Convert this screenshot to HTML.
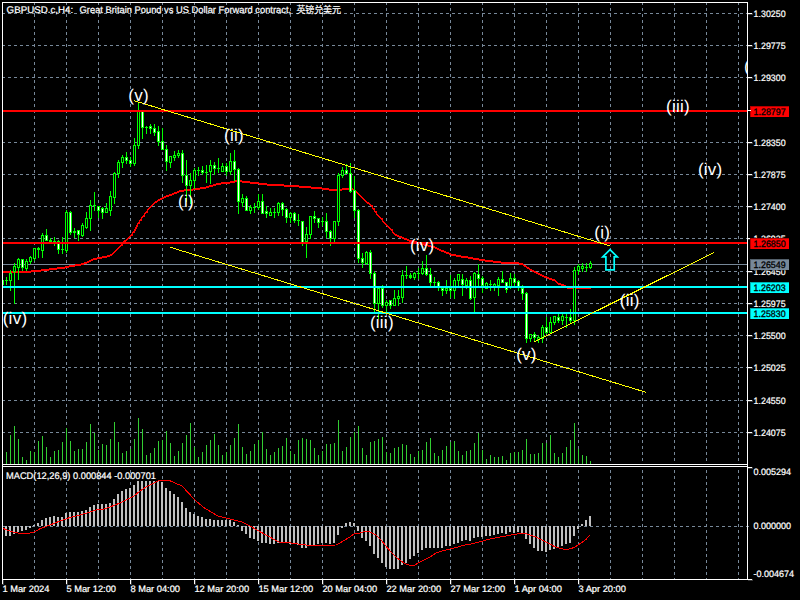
<!DOCTYPE html>
<html lang="en"><head><meta charset="utf-8"><title>GBPUSD.c H4</title>
<style>html,body{margin:0;padding:0;background:#000;overflow:hidden}svg{display:block}</style>
</head><body>
<svg width="800" height="600" viewBox="0 0 800 600" shape-rendering="crispEdges">
<rect x="0" y="0" width="800" height="600" fill="#000"/>
<g stroke="#778899" stroke-width="1" stroke-dasharray="3 3" fill="none">
<line x1="2" y1="13.5" x2="747" y2="13.5"/>
<line x1="2" y1="45.5" x2="747" y2="45.5"/>
<line x1="2" y1="77.5" x2="747" y2="77.5"/>
<line x1="2" y1="110.5" x2="747" y2="110.5"/>
<line x1="2" y1="142.5" x2="747" y2="142.5"/>
<line x1="2" y1="174.5" x2="747" y2="174.5"/>
<line x1="2" y1="206.5" x2="747" y2="206.5"/>
<line x1="2" y1="238.5" x2="747" y2="238.5"/>
<line x1="2" y1="271.5" x2="747" y2="271.5"/>
<line x1="2" y1="303.5" x2="747" y2="303.5"/>
<line x1="2" y1="335.5" x2="747" y2="335.5"/>
<line x1="2" y1="367.5" x2="747" y2="367.5"/>
<line x1="2" y1="400.5" x2="747" y2="400.5"/>
<line x1="2" y1="432.5" x2="747" y2="432.5"/>
<line x1="2" y1="526.5" x2="751" y2="526.5"/>
<line x1="34.5" y1="2" x2="34.5" y2="464"/>
<line x1="34.5" y1="470" x2="34.5" y2="579"/>
<line x1="66.5" y1="2" x2="66.5" y2="464"/>
<line x1="66.5" y1="470" x2="66.5" y2="579"/>
<line x1="98.5" y1="2" x2="98.5" y2="464"/>
<line x1="98.5" y1="470" x2="98.5" y2="579"/>
<line x1="130.5" y1="2" x2="130.5" y2="464"/>
<line x1="130.5" y1="470" x2="130.5" y2="579"/>
<line x1="162.5" y1="2" x2="162.5" y2="464"/>
<line x1="162.5" y1="470" x2="162.5" y2="579"/>
<line x1="194.5" y1="2" x2="194.5" y2="464"/>
<line x1="194.5" y1="470" x2="194.5" y2="579"/>
<line x1="226.5" y1="2" x2="226.5" y2="464"/>
<line x1="226.5" y1="470" x2="226.5" y2="579"/>
<line x1="258.5" y1="2" x2="258.5" y2="464"/>
<line x1="258.5" y1="470" x2="258.5" y2="579"/>
<line x1="290.5" y1="2" x2="290.5" y2="464"/>
<line x1="290.5" y1="470" x2="290.5" y2="579"/>
<line x1="322.5" y1="2" x2="322.5" y2="464"/>
<line x1="322.5" y1="470" x2="322.5" y2="579"/>
<line x1="354.5" y1="2" x2="354.5" y2="464"/>
<line x1="354.5" y1="470" x2="354.5" y2="579"/>
<line x1="386.5" y1="2" x2="386.5" y2="464"/>
<line x1="386.5" y1="470" x2="386.5" y2="579"/>
<line x1="418.5" y1="2" x2="418.5" y2="464"/>
<line x1="418.5" y1="470" x2="418.5" y2="579"/>
<line x1="450.5" y1="2" x2="450.5" y2="464"/>
<line x1="450.5" y1="470" x2="450.5" y2="579"/>
<line x1="482.5" y1="2" x2="482.5" y2="464"/>
<line x1="482.5" y1="470" x2="482.5" y2="579"/>
<line x1="514.5" y1="2" x2="514.5" y2="464"/>
<line x1="514.5" y1="470" x2="514.5" y2="579"/>
<line x1="546.5" y1="2" x2="546.5" y2="464"/>
<line x1="546.5" y1="470" x2="546.5" y2="579"/>
<line x1="578.5" y1="2" x2="578.5" y2="464"/>
<line x1="578.5" y1="470" x2="578.5" y2="579"/>
<line x1="610.5" y1="2" x2="610.5" y2="464"/>
<line x1="610.5" y1="470" x2="610.5" y2="579"/>
<line x1="642.5" y1="2" x2="642.5" y2="464"/>
<line x1="642.5" y1="470" x2="642.5" y2="579"/>
<line x1="674.5" y1="2" x2="674.5" y2="464"/>
<line x1="674.5" y1="470" x2="674.5" y2="579"/>
<line x1="706.5" y1="2" x2="706.5" y2="464"/>
<line x1="706.5" y1="470" x2="706.5" y2="579"/>
<line x1="738.5" y1="2" x2="738.5" y2="464"/>
<line x1="738.5" y1="470" x2="738.5" y2="579"/>
</g>
<g fill="#32cd32">
<rect x="6" y="452" width="1" height="12"/>
<rect x="10" y="435" width="1" height="29"/>
<rect x="14" y="426" width="1" height="38"/>
<rect x="18" y="439" width="1" height="25"/>
<rect x="22" y="457" width="1" height="7"/>
<rect x="26" y="460" width="1" height="4"/>
<rect x="30" y="451" width="1" height="13"/>
<rect x="34" y="452" width="1" height="12"/>
<rect x="38" y="441" width="1" height="23"/>
<rect x="42" y="436" width="1" height="28"/>
<rect x="46" y="447" width="1" height="17"/>
<rect x="50" y="457" width="1" height="7"/>
<rect x="54" y="451" width="1" height="13"/>
<rect x="58" y="450" width="1" height="14"/>
<rect x="62" y="442" width="1" height="22"/>
<rect x="66" y="428" width="1" height="36"/>
<rect x="70" y="441" width="1" height="23"/>
<rect x="74" y="451" width="1" height="13"/>
<rect x="78" y="449" width="1" height="15"/>
<rect x="82" y="449" width="1" height="15"/>
<rect x="86" y="442" width="1" height="22"/>
<rect x="90" y="424" width="1" height="40"/>
<rect x="94" y="433" width="1" height="31"/>
<rect x="98" y="450" width="1" height="14"/>
<rect x="102" y="444" width="1" height="20"/>
<rect x="106" y="445" width="1" height="19"/>
<rect x="110" y="439" width="1" height="25"/>
<rect x="114" y="422" width="1" height="42"/>
<rect x="118" y="442" width="1" height="22"/>
<rect x="122" y="453" width="1" height="11"/>
<rect x="126" y="451" width="1" height="13"/>
<rect x="130" y="449" width="1" height="15"/>
<rect x="134" y="439" width="1" height="25"/>
<rect x="138" y="418" width="1" height="46"/>
<rect x="142" y="429" width="1" height="35"/>
<rect x="146" y="455" width="1" height="9"/>
<rect x="150" y="453" width="1" height="11"/>
<rect x="154" y="448" width="1" height="16"/>
<rect x="158" y="441" width="1" height="23"/>
<rect x="162" y="440" width="1" height="24"/>
<rect x="166" y="431" width="1" height="33"/>
<rect x="170" y="443" width="1" height="21"/>
<rect x="174" y="456" width="1" height="8"/>
<rect x="178" y="451" width="1" height="13"/>
<rect x="182" y="443" width="1" height="21"/>
<rect x="186" y="435" width="1" height="29"/>
<rect x="190" y="423" width="1" height="41"/>
<rect x="194" y="447" width="1" height="17"/>
<rect x="198" y="457" width="1" height="7"/>
<rect x="202" y="452" width="1" height="12"/>
<rect x="206" y="445" width="1" height="19"/>
<rect x="210" y="440" width="1" height="24"/>
<rect x="214" y="434" width="1" height="30"/>
<rect x="218" y="445" width="1" height="19"/>
<rect x="222" y="455" width="1" height="9"/>
<rect x="226" y="452" width="1" height="12"/>
<rect x="230" y="445" width="1" height="19"/>
<rect x="234" y="438" width="1" height="26"/>
<rect x="238" y="424" width="1" height="40"/>
<rect x="242" y="447" width="1" height="17"/>
<rect x="246" y="454" width="1" height="10"/>
<rect x="250" y="451" width="1" height="13"/>
<rect x="254" y="444" width="1" height="20"/>
<rect x="258" y="440" width="1" height="24"/>
<rect x="262" y="432" width="1" height="32"/>
<rect x="266" y="449" width="1" height="15"/>
<rect x="270" y="455" width="1" height="9"/>
<rect x="274" y="452" width="1" height="12"/>
<rect x="278" y="448" width="1" height="16"/>
<rect x="282" y="446" width="1" height="18"/>
<rect x="286" y="438" width="1" height="26"/>
<rect x="290" y="451" width="1" height="13"/>
<rect x="294" y="454" width="1" height="10"/>
<rect x="298" y="440" width="1" height="24"/>
<rect x="302" y="438" width="1" height="26"/>
<rect x="306" y="439" width="1" height="25"/>
<rect x="310" y="440" width="1" height="24"/>
<rect x="314" y="448" width="1" height="16"/>
<rect x="318" y="455" width="1" height="9"/>
<rect x="322" y="451" width="1" height="13"/>
<rect x="326" y="444" width="1" height="20"/>
<rect x="330" y="444" width="1" height="20"/>
<rect x="334" y="443" width="1" height="21"/>
<rect x="338" y="420" width="1" height="44"/>
<rect x="342" y="451" width="1" height="13"/>
<rect x="346" y="447" width="1" height="17"/>
<rect x="350" y="437" width="1" height="27"/>
<rect x="354" y="432" width="1" height="32"/>
<rect x="358" y="426" width="1" height="38"/>
<rect x="362" y="448" width="1" height="16"/>
<rect x="366" y="455" width="1" height="9"/>
<rect x="370" y="442" width="1" height="22"/>
<rect x="374" y="441" width="1" height="23"/>
<rect x="378" y="439" width="1" height="25"/>
<rect x="382" y="437" width="1" height="27"/>
<rect x="386" y="452" width="1" height="12"/>
<rect x="390" y="453" width="1" height="11"/>
<rect x="394" y="448" width="1" height="16"/>
<rect x="398" y="447" width="1" height="17"/>
<rect x="402" y="444" width="1" height="20"/>
<rect x="406" y="445" width="1" height="19"/>
<rect x="410" y="454" width="1" height="10"/>
<rect x="414" y="457" width="1" height="7"/>
<rect x="418" y="451" width="1" height="13"/>
<rect x="422" y="450" width="1" height="14"/>
<rect x="426" y="442" width="1" height="22"/>
<rect x="430" y="438" width="1" height="26"/>
<rect x="434" y="453" width="1" height="11"/>
<rect x="438" y="456" width="1" height="8"/>
<rect x="442" y="450" width="1" height="14"/>
<rect x="446" y="446" width="1" height="18"/>
<rect x="450" y="442" width="1" height="22"/>
<rect x="454" y="441" width="1" height="23"/>
<rect x="458" y="451" width="1" height="13"/>
<rect x="462" y="455" width="1" height="9"/>
<rect x="466" y="451" width="1" height="13"/>
<rect x="470" y="450" width="1" height="14"/>
<rect x="474" y="443" width="1" height="21"/>
<rect x="478" y="433" width="1" height="31"/>
<rect x="482" y="450" width="1" height="14"/>
<rect x="486" y="459" width="1" height="5"/>
<rect x="490" y="455" width="1" height="9"/>
<rect x="494" y="457" width="1" height="7"/>
<rect x="498" y="457" width="1" height="7"/>
<rect x="502" y="456" width="1" height="8"/>
<rect x="506" y="460" width="1" height="4"/>
<rect x="510" y="453" width="1" height="11"/>
<rect x="514" y="452" width="1" height="12"/>
<rect x="518" y="452" width="1" height="12"/>
<rect x="522" y="450" width="1" height="14"/>
<rect x="526" y="439" width="1" height="25"/>
<rect x="530" y="454" width="1" height="10"/>
<rect x="534" y="454" width="1" height="10"/>
<rect x="538" y="453" width="1" height="11"/>
<rect x="542" y="443" width="1" height="21"/>
<rect x="546" y="443" width="1" height="21"/>
<rect x="550" y="435" width="1" height="29"/>
<rect x="554" y="453" width="1" height="11"/>
<rect x="558" y="457" width="1" height="7"/>
<rect x="562" y="453" width="1" height="11"/>
<rect x="566" y="447" width="1" height="17"/>
<rect x="570" y="440" width="1" height="24"/>
<rect x="574" y="423" width="1" height="41"/>
<rect x="578" y="449" width="1" height="15"/>
<rect x="582" y="455" width="1" height="9"/>
<rect x="586" y="456" width="1" height="8"/>
<rect x="590" y="461" width="1" height="3"/>
</g>
<rect x="3" y="264" width="744" height="1" fill="#778899"/>
<g fill="#ff0000">
<rect x="3" y="271" width="28" height="2"/>
<rect x="31" y="270" width="10" height="2"/>
<rect x="41" y="269" width="8" height="2"/>
<rect x="49" y="268" width="8" height="2"/>
<rect x="57" y="267" width="8" height="2"/>
<rect x="65" y="266" width="4" height="2"/>
<rect x="69" y="265" width="6" height="2"/>
<rect x="75" y="264" width="6" height="2"/>
<rect x="81" y="263" width="3" height="2"/>
<rect x="84" y="262" width="3" height="2"/>
<rect x="87" y="261" width="2" height="2"/>
<rect x="89" y="260" width="2" height="2"/>
<rect x="91" y="259" width="2" height="2"/>
<rect x="93" y="258" width="4" height="2"/>
<rect x="97" y="257" width="5" height="2"/>
<rect x="102" y="256" width="5" height="2"/>
<rect x="107" y="255" width="3" height="2"/>
<rect x="110" y="254" width="2" height="2"/>
<rect x="112" y="253" width="1" height="2"/>
<rect x="113" y="252" width="1" height="2"/>
<rect x="114" y="251" width="1" height="2"/>
<rect x="115" y="250" width="1" height="2"/>
<rect x="116" y="249" width="1" height="2"/>
<rect x="117" y="248" width="1" height="2"/>
<rect x="118" y="247" width="1" height="2"/>
<rect x="119" y="246" width="1" height="2"/>
<rect x="120" y="245" width="1" height="2"/>
<rect x="121" y="244" width="1" height="2"/>
<rect x="122" y="242" width="1" height="4"/>
<rect x="122" y="242" width="1" height="2"/>
<rect x="123" y="241" width="1" height="2"/>
<rect x="124" y="240" width="2" height="2"/>
<rect x="126" y="239" width="1" height="2"/>
<rect x="127" y="238" width="1" height="2"/>
<rect x="128" y="237" width="1" height="2"/>
<rect x="129" y="236" width="1" height="2"/>
<rect x="130" y="235" width="1" height="2"/>
<rect x="131" y="234" width="1" height="2"/>
<rect x="132" y="232" width="1" height="4"/>
<rect x="132" y="232" width="1" height="2"/>
<rect x="133" y="231" width="1" height="2"/>
<rect x="134" y="229" width="1" height="4"/>
<rect x="134" y="229" width="1" height="2"/>
<rect x="135" y="227" width="1" height="4"/>
<rect x="135" y="227" width="1" height="2"/>
<rect x="136" y="225" width="1" height="4"/>
<rect x="136" y="225" width="1" height="2"/>
<rect x="137" y="223" width="1" height="4"/>
<rect x="137" y="223" width="1" height="2"/>
<rect x="138" y="222" width="1" height="2"/>
<rect x="139" y="220" width="1" height="4"/>
<rect x="139" y="220" width="1" height="2"/>
<rect x="140" y="219" width="1" height="2"/>
<rect x="141" y="217" width="1" height="4"/>
<rect x="141" y="217" width="1" height="2"/>
<rect x="142" y="216" width="1" height="2"/>
<rect x="143" y="215" width="1" height="2"/>
<rect x="144" y="213" width="1" height="4"/>
<rect x="144" y="213" width="1" height="2"/>
<rect x="145" y="212" width="1" height="2"/>
<rect x="146" y="211" width="1" height="2"/>
<rect x="147" y="209" width="1" height="4"/>
<rect x="147" y="209" width="1" height="2"/>
<rect x="148" y="208" width="1" height="2"/>
<rect x="149" y="207" width="1" height="2"/>
<rect x="150" y="206" width="1" height="2"/>
<rect x="151" y="205" width="1" height="2"/>
<rect x="152" y="204" width="1" height="2"/>
<rect x="153" y="203" width="1" height="2"/>
<rect x="154" y="202" width="1" height="2"/>
<rect x="155" y="201" width="2" height="2"/>
<rect x="157" y="200" width="1" height="2"/>
<rect x="158" y="199" width="2" height="2"/>
<rect x="160" y="198" width="2" height="2"/>
<rect x="162" y="197" width="2" height="2"/>
<rect x="164" y="196" width="2" height="2"/>
<rect x="166" y="195" width="3" height="2"/>
<rect x="169" y="194" width="3" height="2"/>
<rect x="172" y="193" width="2" height="2"/>
<rect x="174" y="192" width="3" height="2"/>
<rect x="177" y="191" width="2" height="2"/>
<rect x="179" y="190" width="5" height="2"/>
<rect x="184" y="189" width="9" height="2"/>
<rect x="193" y="188" width="7" height="2"/>
<rect x="200" y="187" width="6" height="2"/>
<rect x="206" y="186" width="3" height="2"/>
<rect x="209" y="185" width="4" height="2"/>
<rect x="213" y="184" width="3" height="2"/>
<rect x="216" y="183" width="5" height="2"/>
<rect x="221" y="182" width="9" height="2"/>
<rect x="230" y="181" width="5" height="2"/>
<rect x="235" y="180" width="7" height="2"/>
<rect x="242" y="181" width="8" height="2"/>
<rect x="250" y="182" width="9" height="2"/>
<rect x="259" y="183" width="8" height="2"/>
<rect x="267" y="184" width="17" height="2"/>
<rect x="284" y="185" width="15" height="2"/>
<rect x="299" y="186" width="12" height="2"/>
<rect x="311" y="187" width="11" height="2"/>
<rect x="322" y="188" width="7" height="2"/>
<rect x="329" y="189" width="13" height="2"/>
<rect x="342" y="188" width="11" height="2"/>
<rect x="353" y="189" width="2" height="2"/>
<rect x="355" y="190" width="1" height="2"/>
<rect x="356" y="191" width="1" height="2"/>
<rect x="357" y="192" width="1" height="2"/>
<rect x="358" y="193" width="1" height="2"/>
<rect x="359" y="194" width="1" height="2"/>
<rect x="360" y="195" width="1" height="2"/>
<rect x="361" y="196" width="1" height="2"/>
<rect x="362" y="197" width="1" height="2"/>
<rect x="363" y="198" width="1" height="2"/>
<rect x="364" y="199" width="1" height="2"/>
<rect x="365" y="200" width="1" height="2"/>
<rect x="366" y="201" width="1" height="2"/>
<rect x="367" y="202" width="2" height="2"/>
<rect x="369" y="203" width="1" height="2"/>
<rect x="370" y="204" width="1" height="2"/>
<rect x="371" y="205" width="1" height="2"/>
<rect x="372" y="205" width="1" height="4"/>
<rect x="372" y="207" width="1" height="2"/>
<rect x="373" y="208" width="1" height="2"/>
<rect x="374" y="208" width="1" height="4"/>
<rect x="374" y="210" width="1" height="2"/>
<rect x="375" y="211" width="1" height="2"/>
<rect x="376" y="211" width="1" height="4"/>
<rect x="376" y="213" width="1" height="2"/>
<rect x="377" y="214" width="1" height="2"/>
<rect x="378" y="215" width="1" height="2"/>
<rect x="379" y="216" width="1" height="2"/>
<rect x="380" y="217" width="1" height="2"/>
<rect x="381" y="218" width="1" height="2"/>
<rect x="382" y="218" width="1" height="4"/>
<rect x="382" y="220" width="1" height="2"/>
<rect x="383" y="221" width="1" height="2"/>
<rect x="384" y="222" width="1" height="2"/>
<rect x="385" y="223" width="1" height="2"/>
<rect x="386" y="224" width="1" height="2"/>
<rect x="387" y="225" width="1" height="2"/>
<rect x="388" y="226" width="1" height="2"/>
<rect x="389" y="227" width="1" height="2"/>
<rect x="390" y="228" width="1" height="2"/>
<rect x="391" y="229" width="1" height="2"/>
<rect x="392" y="229" width="1" height="4"/>
<rect x="392" y="231" width="1" height="2"/>
<rect x="393" y="232" width="1" height="2"/>
<rect x="394" y="233" width="1" height="2"/>
<rect x="395" y="234" width="2" height="2"/>
<rect x="397" y="235" width="2" height="2"/>
<rect x="399" y="236" width="3" height="2"/>
<rect x="402" y="237" width="2" height="2"/>
<rect x="404" y="238" width="3" height="2"/>
<rect x="407" y="239" width="2" height="2"/>
<rect x="409" y="240" width="4" height="2"/>
<rect x="413" y="241" width="4" height="2"/>
<rect x="417" y="242" width="3" height="2"/>
<rect x="420" y="243" width="4" height="2"/>
<rect x="424" y="244" width="4" height="2"/>
<rect x="428" y="245" width="3" height="2"/>
<rect x="431" y="246" width="4" height="2"/>
<rect x="435" y="247" width="2" height="2"/>
<rect x="437" y="248" width="2" height="2"/>
<rect x="439" y="249" width="2" height="2"/>
<rect x="441" y="250" width="3" height="2"/>
<rect x="444" y="251" width="2" height="2"/>
<rect x="446" y="252" width="3" height="2"/>
<rect x="449" y="253" width="2" height="2"/>
<rect x="451" y="254" width="5" height="2"/>
<rect x="456" y="255" width="5" height="2"/>
<rect x="461" y="256" width="7" height="2"/>
<rect x="468" y="257" width="5" height="2"/>
<rect x="473" y="258" width="6" height="2"/>
<rect x="479" y="259" width="6" height="2"/>
<rect x="485" y="260" width="8" height="2"/>
<rect x="493" y="261" width="8" height="2"/>
<rect x="501" y="262" width="18" height="2"/>
<rect x="519" y="263" width="4" height="2"/>
<rect x="523" y="264" width="1" height="2"/>
<rect x="524" y="265" width="2" height="2"/>
<rect x="526" y="266" width="1" height="2"/>
<rect x="527" y="267" width="2" height="2"/>
<rect x="529" y="268" width="1" height="2"/>
<rect x="530" y="269" width="2" height="2"/>
<rect x="532" y="270" width="2" height="2"/>
<rect x="534" y="271" width="2" height="2"/>
<rect x="536" y="272" width="2" height="2"/>
<rect x="538" y="273" width="2" height="2"/>
<rect x="540" y="274" width="2" height="2"/>
<rect x="542" y="275" width="2" height="2"/>
<rect x="544" y="276" width="3" height="2"/>
<rect x="547" y="277" width="2" height="2"/>
<rect x="549" y="278" width="3" height="2"/>
<rect x="552" y="279" width="3" height="2"/>
<rect x="555" y="280" width="1" height="2"/>
<rect x="556" y="281" width="1" height="2"/>
<rect x="557" y="282" width="1" height="2"/>
<rect x="558" y="283" width="3" height="2"/>
<rect x="561" y="284" width="3" height="2"/>
<rect x="564" y="285" width="2" height="2"/>
<rect x="566" y="286" width="1" height="2"/>
<rect x="567" y="287" width="24" height="2"/>
</g>
<rect x="3" y="280" width="1" height="5" fill="#00ff00"/>
<rect x="6" y="277" width="1" height="8" fill="#00ff00"/>
<rect x="5" y="280" width="3" height="1" fill="#00ff00"/>
<rect x="10" y="270" width="1" height="21" fill="#00ff00"/>
<rect x="9" y="273" width="3" height="8" fill="#00ff00"/>
<rect x="10" y="274" width="1" height="6" fill="#000"/>
<rect x="14" y="263" width="1" height="41" fill="#00ff00"/>
<rect x="13" y="266" width="3" height="6" fill="#00ff00"/>
<rect x="14" y="267" width="1" height="4" fill="#000"/>
<rect x="18" y="258" width="1" height="22" fill="#00ff00"/>
<rect x="17" y="259" width="3" height="9" fill="#00ff00"/>
<rect x="18" y="260" width="1" height="7" fill="#000"/>
<rect x="22" y="259" width="1" height="12" fill="#00ff00"/>
<rect x="21" y="259" width="3" height="9" fill="#00ff00"/>
<rect x="22" y="260" width="1" height="7" fill="#fff"/>
<rect x="26" y="259" width="1" height="12" fill="#00ff00"/>
<rect x="25" y="261" width="3" height="8" fill="#00ff00"/>
<rect x="26" y="262" width="1" height="6" fill="#000"/>
<rect x="30" y="256" width="1" height="8" fill="#00ff00"/>
<rect x="29" y="257" width="3" height="5" fill="#00ff00"/>
<rect x="30" y="258" width="1" height="3" fill="#000"/>
<rect x="34" y="248" width="1" height="13" fill="#00ff00"/>
<rect x="33" y="248" width="3" height="11" fill="#00ff00"/>
<rect x="34" y="249" width="1" height="9" fill="#000"/>
<rect x="38" y="247" width="1" height="11" fill="#00ff00"/>
<rect x="37" y="248" width="3" height="2" fill="#00ff00"/>
<rect x="42" y="233" width="1" height="25" fill="#00ff00"/>
<rect x="41" y="235" width="3" height="16" fill="#00ff00"/>
<rect x="42" y="236" width="1" height="14" fill="#000"/>
<rect x="46" y="229" width="1" height="12" fill="#00ff00"/>
<rect x="45" y="235" width="3" height="6" fill="#00ff00"/>
<rect x="46" y="236" width="1" height="4" fill="#fff"/>
<rect x="50" y="238" width="1" height="5" fill="#00ff00"/>
<rect x="49" y="240" width="3" height="2" fill="#00ff00"/>
<rect x="54" y="237" width="1" height="9" fill="#00ff00"/>
<rect x="53" y="241" width="3" height="1" fill="#00ff00"/>
<rect x="58" y="240" width="1" height="14" fill="#00ff00"/>
<rect x="57" y="241" width="3" height="9" fill="#00ff00"/>
<rect x="58" y="242" width="1" height="7" fill="#fff"/>
<rect x="62" y="237" width="1" height="17" fill="#00ff00"/>
<rect x="61" y="249" width="3" height="1" fill="#00ff00"/>
<rect x="66" y="210" width="1" height="43" fill="#00ff00"/>
<rect x="65" y="212" width="3" height="39" fill="#00ff00"/>
<rect x="66" y="213" width="1" height="37" fill="#000"/>
<rect x="70" y="211" width="1" height="24" fill="#00ff00"/>
<rect x="69" y="212" width="3" height="21" fill="#00ff00"/>
<rect x="70" y="213" width="1" height="19" fill="#fff"/>
<rect x="74" y="228" width="1" height="10" fill="#00ff00"/>
<rect x="73" y="231" width="3" height="2" fill="#00ff00"/>
<rect x="78" y="230" width="1" height="11" fill="#00ff00"/>
<rect x="77" y="230" width="3" height="5" fill="#00ff00"/>
<rect x="78" y="231" width="1" height="3" fill="#fff"/>
<rect x="82" y="223" width="1" height="14" fill="#00ff00"/>
<rect x="81" y="225" width="3" height="11" fill="#00ff00"/>
<rect x="82" y="226" width="1" height="9" fill="#000"/>
<rect x="86" y="212" width="1" height="17" fill="#00ff00"/>
<rect x="85" y="218" width="3" height="10" fill="#00ff00"/>
<rect x="86" y="219" width="1" height="8" fill="#000"/>
<rect x="90" y="200" width="1" height="31" fill="#00ff00"/>
<rect x="89" y="205" width="3" height="14" fill="#00ff00"/>
<rect x="90" y="206" width="1" height="12" fill="#000"/>
<rect x="94" y="192" width="1" height="19" fill="#00ff00"/>
<rect x="93" y="205" width="3" height="1" fill="#00ff00"/>
<rect x="98" y="206" width="1" height="12" fill="#00ff00"/>
<rect x="97" y="206" width="3" height="5" fill="#00ff00"/>
<rect x="98" y="207" width="1" height="3" fill="#fff"/>
<rect x="102" y="207" width="1" height="12" fill="#00ff00"/>
<rect x="101" y="208" width="3" height="5" fill="#00ff00"/>
<rect x="102" y="209" width="1" height="3" fill="#fff"/>
<rect x="106" y="203" width="1" height="10" fill="#00ff00"/>
<rect x="105" y="208" width="3" height="5" fill="#00ff00"/>
<rect x="106" y="209" width="1" height="3" fill="#000"/>
<rect x="110" y="191" width="1" height="25" fill="#00ff00"/>
<rect x="109" y="196" width="3" height="15" fill="#00ff00"/>
<rect x="110" y="197" width="1" height="13" fill="#000"/>
<rect x="114" y="172" width="1" height="32" fill="#00ff00"/>
<rect x="113" y="173" width="3" height="25" fill="#00ff00"/>
<rect x="114" y="174" width="1" height="23" fill="#000"/>
<rect x="118" y="160" width="1" height="18" fill="#00ff00"/>
<rect x="117" y="162" width="3" height="12" fill="#00ff00"/>
<rect x="118" y="163" width="1" height="10" fill="#000"/>
<rect x="122" y="155" width="1" height="13" fill="#00ff00"/>
<rect x="121" y="157" width="3" height="6" fill="#00ff00"/>
<rect x="122" y="158" width="1" height="4" fill="#000"/>
<rect x="126" y="152" width="1" height="12" fill="#00ff00"/>
<rect x="125" y="157" width="3" height="4" fill="#00ff00"/>
<rect x="126" y="158" width="1" height="2" fill="#fff"/>
<rect x="130" y="157" width="1" height="10" fill="#00ff00"/>
<rect x="129" y="160" width="3" height="4" fill="#00ff00"/>
<rect x="130" y="161" width="1" height="2" fill="#fff"/>
<rect x="134" y="138" width="1" height="28" fill="#00ff00"/>
<rect x="133" y="145" width="3" height="19" fill="#00ff00"/>
<rect x="134" y="146" width="1" height="17" fill="#000"/>
<rect x="138" y="102" width="1" height="47" fill="#00ff00"/>
<rect x="137" y="111" width="3" height="35" fill="#00ff00"/>
<rect x="138" y="112" width="1" height="33" fill="#000"/>
<rect x="142" y="111" width="1" height="28" fill="#00ff00"/>
<rect x="141" y="111" width="3" height="17" fill="#00ff00"/>
<rect x="142" y="112" width="1" height="15" fill="#fff"/>
<rect x="146" y="126" width="1" height="8" fill="#00ff00"/>
<rect x="145" y="127" width="3" height="1" fill="#00ff00"/>
<rect x="150" y="124" width="1" height="10" fill="#00ff00"/>
<rect x="149" y="126" width="3" height="3" fill="#00ff00"/>
<rect x="150" y="127" width="1" height="1" fill="#fff"/>
<rect x="154" y="124" width="1" height="12" fill="#00ff00"/>
<rect x="153" y="128" width="3" height="5" fill="#00ff00"/>
<rect x="154" y="129" width="1" height="3" fill="#fff"/>
<rect x="158" y="126" width="1" height="20" fill="#00ff00"/>
<rect x="157" y="131" width="3" height="11" fill="#00ff00"/>
<rect x="158" y="132" width="1" height="9" fill="#fff"/>
<rect x="162" y="128" width="1" height="22" fill="#00ff00"/>
<rect x="161" y="141" width="3" height="9" fill="#00ff00"/>
<rect x="162" y="142" width="1" height="7" fill="#fff"/>
<rect x="166" y="145" width="1" height="26" fill="#00ff00"/>
<rect x="165" y="149" width="3" height="13" fill="#00ff00"/>
<rect x="166" y="150" width="1" height="11" fill="#fff"/>
<rect x="170" y="156" width="1" height="12" fill="#00ff00"/>
<rect x="169" y="156" width="3" height="7" fill="#00ff00"/>
<rect x="170" y="157" width="1" height="5" fill="#000"/>
<rect x="174" y="151" width="1" height="10" fill="#00ff00"/>
<rect x="173" y="155" width="3" height="3" fill="#00ff00"/>
<rect x="174" y="156" width="1" height="1" fill="#000"/>
<rect x="178" y="150" width="1" height="8" fill="#00ff00"/>
<rect x="177" y="153" width="3" height="3" fill="#00ff00"/>
<rect x="178" y="154" width="1" height="1" fill="#000"/>
<rect x="182" y="150" width="1" height="33" fill="#00ff00"/>
<rect x="181" y="153" width="3" height="23" fill="#00ff00"/>
<rect x="182" y="154" width="1" height="21" fill="#fff"/>
<rect x="186" y="160" width="1" height="42" fill="#00ff00"/>
<rect x="185" y="175" width="3" height="11" fill="#00ff00"/>
<rect x="186" y="176" width="1" height="9" fill="#fff"/>
<rect x="190" y="173" width="1" height="31" fill="#00ff00"/>
<rect x="189" y="180" width="3" height="6" fill="#00ff00"/>
<rect x="190" y="181" width="1" height="4" fill="#000"/>
<rect x="194" y="168" width="1" height="21" fill="#00ff00"/>
<rect x="193" y="170" width="3" height="11" fill="#00ff00"/>
<rect x="194" y="171" width="1" height="9" fill="#000"/>
<rect x="198" y="167" width="1" height="9" fill="#00ff00"/>
<rect x="197" y="170" width="3" height="1" fill="#00ff00"/>
<rect x="202" y="166" width="1" height="9" fill="#00ff00"/>
<rect x="201" y="170" width="3" height="3" fill="#00ff00"/>
<rect x="202" y="171" width="1" height="1" fill="#fff"/>
<rect x="206" y="165" width="1" height="18" fill="#00ff00"/>
<rect x="205" y="172" width="3" height="1" fill="#00ff00"/>
<rect x="210" y="160" width="1" height="24" fill="#00ff00"/>
<rect x="209" y="165" width="3" height="7" fill="#00ff00"/>
<rect x="210" y="166" width="1" height="5" fill="#000"/>
<rect x="214" y="162" width="1" height="13" fill="#00ff00"/>
<rect x="213" y="165" width="3" height="4" fill="#00ff00"/>
<rect x="214" y="166" width="1" height="2" fill="#fff"/>
<rect x="218" y="158" width="1" height="15" fill="#00ff00"/>
<rect x="217" y="168" width="3" height="1" fill="#00ff00"/>
<rect x="222" y="163" width="1" height="9" fill="#00ff00"/>
<rect x="221" y="166" width="3" height="6" fill="#00ff00"/>
<rect x="222" y="167" width="1" height="4" fill="#000"/>
<rect x="226" y="163" width="1" height="13" fill="#00ff00"/>
<rect x="225" y="166" width="3" height="6" fill="#00ff00"/>
<rect x="226" y="167" width="1" height="4" fill="#fff"/>
<rect x="230" y="153" width="1" height="22" fill="#00ff00"/>
<rect x="229" y="161" width="3" height="11" fill="#00ff00"/>
<rect x="230" y="162" width="1" height="9" fill="#000"/>
<rect x="234" y="150" width="1" height="31" fill="#00ff00"/>
<rect x="233" y="161" width="3" height="9" fill="#00ff00"/>
<rect x="234" y="162" width="1" height="7" fill="#fff"/>
<rect x="238" y="168" width="1" height="46" fill="#00ff00"/>
<rect x="237" y="169" width="3" height="33" fill="#00ff00"/>
<rect x="238" y="170" width="1" height="31" fill="#fff"/>
<rect x="242" y="194" width="1" height="13" fill="#00ff00"/>
<rect x="241" y="198" width="3" height="5" fill="#00ff00"/>
<rect x="242" y="199" width="1" height="3" fill="#000"/>
<rect x="246" y="196" width="1" height="15" fill="#00ff00"/>
<rect x="245" y="198" width="3" height="13" fill="#00ff00"/>
<rect x="246" y="199" width="1" height="11" fill="#fff"/>
<rect x="250" y="205" width="1" height="9" fill="#00ff00"/>
<rect x="249" y="207" width="3" height="4" fill="#00ff00"/>
<rect x="250" y="208" width="1" height="2" fill="#000"/>
<rect x="254" y="203" width="1" height="10" fill="#00ff00"/>
<rect x="253" y="207" width="3" height="1" fill="#00ff00"/>
<rect x="258" y="194" width="1" height="16" fill="#00ff00"/>
<rect x="257" y="201" width="3" height="7" fill="#00ff00"/>
<rect x="258" y="202" width="1" height="5" fill="#000"/>
<rect x="262" y="194" width="1" height="20" fill="#00ff00"/>
<rect x="261" y="201" width="3" height="13" fill="#00ff00"/>
<rect x="262" y="202" width="1" height="11" fill="#fff"/>
<rect x="266" y="206" width="1" height="12" fill="#00ff00"/>
<rect x="265" y="211" width="3" height="3" fill="#00ff00"/>
<rect x="266" y="212" width="1" height="1" fill="#fff"/>
<rect x="270" y="208" width="1" height="8" fill="#00ff00"/>
<rect x="269" y="212" width="3" height="4" fill="#00ff00"/>
<rect x="270" y="213" width="1" height="2" fill="#000"/>
<rect x="274" y="208" width="1" height="10" fill="#00ff00"/>
<rect x="273" y="212" width="3" height="1" fill="#00ff00"/>
<rect x="278" y="202" width="1" height="14" fill="#00ff00"/>
<rect x="277" y="203" width="3" height="10" fill="#00ff00"/>
<rect x="278" y="204" width="1" height="8" fill="#000"/>
<rect x="282" y="202" width="1" height="14" fill="#00ff00"/>
<rect x="281" y="203" width="3" height="7" fill="#00ff00"/>
<rect x="282" y="204" width="1" height="5" fill="#fff"/>
<rect x="286" y="208" width="1" height="15" fill="#00ff00"/>
<rect x="285" y="209" width="3" height="9" fill="#00ff00"/>
<rect x="286" y="210" width="1" height="7" fill="#fff"/>
<rect x="290" y="212" width="1" height="11" fill="#00ff00"/>
<rect x="289" y="213" width="3" height="5" fill="#00ff00"/>
<rect x="290" y="214" width="1" height="3" fill="#000"/>
<rect x="294" y="212" width="1" height="11" fill="#00ff00"/>
<rect x="293" y="213" width="3" height="8" fill="#00ff00"/>
<rect x="294" y="214" width="1" height="6" fill="#fff"/>
<rect x="298" y="214" width="1" height="12" fill="#00ff00"/>
<rect x="297" y="220" width="3" height="1" fill="#00ff00"/>
<rect x="302" y="221" width="1" height="25" fill="#00ff00"/>
<rect x="301" y="221" width="3" height="23" fill="#00ff00"/>
<rect x="302" y="222" width="1" height="21" fill="#fff"/>
<rect x="306" y="227" width="1" height="31" fill="#00ff00"/>
<rect x="305" y="234" width="3" height="8" fill="#00ff00"/>
<rect x="306" y="235" width="1" height="6" fill="#000"/>
<rect x="310" y="216" width="1" height="23" fill="#00ff00"/>
<rect x="309" y="216" width="3" height="19" fill="#00ff00"/>
<rect x="310" y="217" width="1" height="17" fill="#000"/>
<rect x="314" y="211" width="1" height="12" fill="#00ff00"/>
<rect x="313" y="216" width="3" height="3" fill="#00ff00"/>
<rect x="314" y="217" width="1" height="1" fill="#fff"/>
<rect x="318" y="218" width="1" height="10" fill="#00ff00"/>
<rect x="317" y="218" width="3" height="5" fill="#00ff00"/>
<rect x="318" y="219" width="1" height="3" fill="#fff"/>
<rect x="322" y="217" width="1" height="9" fill="#00ff00"/>
<rect x="321" y="221" width="3" height="1" fill="#00ff00"/>
<rect x="326" y="213" width="1" height="25" fill="#00ff00"/>
<rect x="325" y="221" width="3" height="11" fill="#00ff00"/>
<rect x="326" y="222" width="1" height="9" fill="#fff"/>
<rect x="330" y="230" width="1" height="16" fill="#00ff00"/>
<rect x="329" y="231" width="3" height="8" fill="#00ff00"/>
<rect x="330" y="232" width="1" height="6" fill="#fff"/>
<rect x="334" y="221" width="1" height="22" fill="#00ff00"/>
<rect x="333" y="221" width="3" height="18" fill="#00ff00"/>
<rect x="334" y="222" width="1" height="16" fill="#000"/>
<rect x="338" y="173" width="1" height="53" fill="#00ff00"/>
<rect x="337" y="175" width="3" height="47" fill="#00ff00"/>
<rect x="338" y="176" width="1" height="45" fill="#000"/>
<rect x="342" y="167" width="1" height="11" fill="#00ff00"/>
<rect x="341" y="170" width="3" height="6" fill="#00ff00"/>
<rect x="342" y="171" width="1" height="4" fill="#000"/>
<rect x="346" y="164" width="1" height="10" fill="#00ff00"/>
<rect x="345" y="170" width="3" height="4" fill="#00ff00"/>
<rect x="346" y="171" width="1" height="2" fill="#fff"/>
<rect x="350" y="163" width="1" height="30" fill="#00ff00"/>
<rect x="349" y="173" width="3" height="19" fill="#00ff00"/>
<rect x="350" y="174" width="1" height="17" fill="#fff"/>
<rect x="354" y="176" width="1" height="42" fill="#00ff00"/>
<rect x="353" y="190" width="3" height="21" fill="#00ff00"/>
<rect x="354" y="191" width="1" height="19" fill="#fff"/>
<rect x="358" y="209" width="1" height="54" fill="#00ff00"/>
<rect x="357" y="210" width="3" height="49" fill="#00ff00"/>
<rect x="358" y="211" width="1" height="47" fill="#fff"/>
<rect x="362" y="253" width="1" height="15" fill="#00ff00"/>
<rect x="361" y="258" width="3" height="5" fill="#00ff00"/>
<rect x="362" y="259" width="1" height="3" fill="#fff"/>
<rect x="366" y="251" width="1" height="14" fill="#00ff00"/>
<rect x="365" y="252" width="3" height="12" fill="#00ff00"/>
<rect x="366" y="253" width="1" height="10" fill="#000"/>
<rect x="370" y="250" width="1" height="29" fill="#00ff00"/>
<rect x="369" y="252" width="3" height="22" fill="#00ff00"/>
<rect x="370" y="253" width="1" height="20" fill="#fff"/>
<rect x="374" y="271" width="1" height="42" fill="#00ff00"/>
<rect x="373" y="273" width="3" height="31" fill="#00ff00"/>
<rect x="374" y="274" width="1" height="29" fill="#fff"/>
<rect x="378" y="288" width="1" height="31" fill="#00ff00"/>
<rect x="377" y="288" width="3" height="16" fill="#00ff00"/>
<rect x="378" y="289" width="1" height="14" fill="#000"/>
<rect x="382" y="285" width="1" height="23" fill="#00ff00"/>
<rect x="381" y="288" width="3" height="18" fill="#00ff00"/>
<rect x="382" y="289" width="1" height="16" fill="#fff"/>
<rect x="386" y="300" width="1" height="13" fill="#00ff00"/>
<rect x="385" y="302" width="3" height="4" fill="#00ff00"/>
<rect x="386" y="303" width="1" height="2" fill="#000"/>
<rect x="390" y="300" width="1" height="9" fill="#00ff00"/>
<rect x="389" y="300" width="3" height="6" fill="#00ff00"/>
<rect x="390" y="301" width="1" height="4" fill="#fff"/>
<rect x="394" y="290" width="1" height="16" fill="#00ff00"/>
<rect x="393" y="298" width="3" height="8" fill="#00ff00"/>
<rect x="394" y="299" width="1" height="6" fill="#000"/>
<rect x="398" y="290" width="1" height="16" fill="#00ff00"/>
<rect x="397" y="296" width="3" height="3" fill="#00ff00"/>
<rect x="398" y="297" width="1" height="1" fill="#000"/>
<rect x="402" y="270" width="1" height="33" fill="#00ff00"/>
<rect x="401" y="275" width="3" height="23" fill="#00ff00"/>
<rect x="402" y="276" width="1" height="21" fill="#000"/>
<rect x="406" y="266" width="1" height="13" fill="#00ff00"/>
<rect x="405" y="275" width="3" height="1" fill="#00ff00"/>
<rect x="410" y="273" width="1" height="6" fill="#00ff00"/>
<rect x="409" y="275" width="3" height="3" fill="#00ff00"/>
<rect x="414" y="272" width="1" height="8" fill="#00ff00"/>
<rect x="413" y="273" width="3" height="5" fill="#00ff00"/>
<rect x="414" y="274" width="1" height="3" fill="#000"/>
<rect x="418" y="268" width="1" height="11" fill="#00ff00"/>
<rect x="417" y="273" width="3" height="1" fill="#00ff00"/>
<rect x="422" y="261" width="1" height="14" fill="#00ff00"/>
<rect x="421" y="268" width="3" height="6" fill="#00ff00"/>
<rect x="422" y="269" width="1" height="4" fill="#000"/>
<rect x="426" y="255" width="1" height="21" fill="#00ff00"/>
<rect x="425" y="268" width="3" height="7" fill="#00ff00"/>
<rect x="426" y="269" width="1" height="5" fill="#fff"/>
<rect x="430" y="268" width="1" height="18" fill="#00ff00"/>
<rect x="429" y="274" width="3" height="9" fill="#00ff00"/>
<rect x="430" y="275" width="1" height="7" fill="#fff"/>
<rect x="434" y="277" width="1" height="9" fill="#00ff00"/>
<rect x="433" y="282" width="3" height="1" fill="#00ff00"/>
<rect x="438" y="281" width="1" height="10" fill="#00ff00"/>
<rect x="437" y="282" width="3" height="5" fill="#00ff00"/>
<rect x="438" y="283" width="1" height="3" fill="#fff"/>
<rect x="442" y="287" width="1" height="9" fill="#00ff00"/>
<rect x="441" y="288" width="3" height="3" fill="#00ff00"/>
<rect x="442" y="289" width="1" height="1" fill="#fff"/>
<rect x="446" y="280" width="1" height="14" fill="#00ff00"/>
<rect x="445" y="288" width="3" height="3" fill="#00ff00"/>
<rect x="446" y="289" width="1" height="1" fill="#000"/>
<rect x="450" y="275" width="1" height="23" fill="#00ff00"/>
<rect x="449" y="288" width="3" height="3" fill="#00ff00"/>
<rect x="450" y="289" width="1" height="1" fill="#fff"/>
<rect x="454" y="278" width="1" height="21" fill="#00ff00"/>
<rect x="453" y="280" width="3" height="11" fill="#00ff00"/>
<rect x="454" y="281" width="1" height="9" fill="#000"/>
<rect x="458" y="274" width="1" height="12" fill="#00ff00"/>
<rect x="457" y="274" width="3" height="7" fill="#00ff00"/>
<rect x="458" y="275" width="1" height="5" fill="#000"/>
<rect x="462" y="274" width="1" height="22" fill="#00ff00"/>
<rect x="461" y="279" width="3" height="6" fill="#00ff00"/>
<rect x="462" y="280" width="1" height="4" fill="#fff"/>
<rect x="466" y="278" width="1" height="11" fill="#00ff00"/>
<rect x="465" y="280" width="3" height="6" fill="#00ff00"/>
<rect x="466" y="281" width="1" height="4" fill="#000"/>
<rect x="470" y="276" width="1" height="24" fill="#00ff00"/>
<rect x="469" y="280" width="3" height="19" fill="#00ff00"/>
<rect x="470" y="281" width="1" height="17" fill="#fff"/>
<rect x="474" y="272" width="1" height="41" fill="#00ff00"/>
<rect x="473" y="273" width="3" height="25" fill="#00ff00"/>
<rect x="474" y="274" width="1" height="23" fill="#000"/>
<rect x="478" y="264" width="1" height="23" fill="#00ff00"/>
<rect x="477" y="274" width="3" height="5" fill="#00ff00"/>
<rect x="478" y="275" width="1" height="3" fill="#fff"/>
<rect x="482" y="276" width="1" height="17" fill="#00ff00"/>
<rect x="481" y="278" width="3" height="8" fill="#00ff00"/>
<rect x="482" y="279" width="1" height="6" fill="#fff"/>
<rect x="486" y="282" width="1" height="7" fill="#00ff00"/>
<rect x="485" y="283" width="3" height="6" fill="#00ff00"/>
<rect x="486" y="284" width="1" height="4" fill="#000"/>
<rect x="490" y="280" width="1" height="11" fill="#00ff00"/>
<rect x="489" y="284" width="3" height="1" fill="#00ff00"/>
<rect x="494" y="283" width="1" height="8" fill="#00ff00"/>
<rect x="493" y="284" width="3" height="3" fill="#00ff00"/>
<rect x="494" y="285" width="1" height="1" fill="#000"/>
<rect x="498" y="277" width="1" height="19" fill="#00ff00"/>
<rect x="497" y="279" width="3" height="7" fill="#00ff00"/>
<rect x="498" y="280" width="1" height="5" fill="#000"/>
<rect x="502" y="271" width="1" height="12" fill="#00ff00"/>
<rect x="501" y="279" width="3" height="4" fill="#00ff00"/>
<rect x="502" y="280" width="1" height="2" fill="#fff"/>
<rect x="506" y="282" width="1" height="11" fill="#00ff00"/>
<rect x="505" y="282" width="3" height="8" fill="#00ff00"/>
<rect x="506" y="283" width="1" height="6" fill="#fff"/>
<rect x="510" y="273" width="1" height="16" fill="#00ff00"/>
<rect x="509" y="278" width="3" height="9" fill="#00ff00"/>
<rect x="510" y="279" width="1" height="7" fill="#000"/>
<rect x="514" y="274" width="1" height="12" fill="#00ff00"/>
<rect x="513" y="278" width="3" height="5" fill="#00ff00"/>
<rect x="514" y="279" width="1" height="3" fill="#fff"/>
<rect x="518" y="280" width="1" height="11" fill="#00ff00"/>
<rect x="517" y="281" width="3" height="6" fill="#00ff00"/>
<rect x="518" y="282" width="1" height="4" fill="#fff"/>
<rect x="522" y="285" width="1" height="15" fill="#00ff00"/>
<rect x="521" y="288" width="3" height="6" fill="#00ff00"/>
<rect x="522" y="289" width="1" height="4" fill="#fff"/>
<rect x="526" y="292" width="1" height="51" fill="#00ff00"/>
<rect x="525" y="293" width="3" height="46" fill="#00ff00"/>
<rect x="526" y="294" width="1" height="44" fill="#fff"/>
<rect x="530" y="334" width="1" height="8" fill="#00ff00"/>
<rect x="529" y="334" width="3" height="5" fill="#00ff00"/>
<rect x="530" y="335" width="1" height="3" fill="#000"/>
<rect x="534" y="332" width="1" height="10" fill="#00ff00"/>
<rect x="533" y="334" width="3" height="4" fill="#00ff00"/>
<rect x="534" y="335" width="1" height="2" fill="#fff"/>
<rect x="538" y="335" width="1" height="8" fill="#00ff00"/>
<rect x="537" y="337" width="3" height="3" fill="#00ff00"/>
<rect x="538" y="338" width="1" height="1" fill="#000"/>
<rect x="542" y="325" width="1" height="18" fill="#00ff00"/>
<rect x="541" y="327" width="3" height="12" fill="#00ff00"/>
<rect x="542" y="328" width="1" height="10" fill="#000"/>
<rect x="546" y="317" width="1" height="17" fill="#00ff00"/>
<rect x="545" y="327" width="3" height="6" fill="#00ff00"/>
<rect x="546" y="328" width="1" height="4" fill="#fff"/>
<rect x="550" y="317" width="1" height="17" fill="#00ff00"/>
<rect x="549" y="322" width="3" height="11" fill="#00ff00"/>
<rect x="550" y="323" width="1" height="9" fill="#000"/>
<rect x="554" y="316" width="1" height="9" fill="#00ff00"/>
<rect x="553" y="316" width="3" height="7" fill="#00ff00"/>
<rect x="554" y="317" width="1" height="5" fill="#000"/>
<rect x="558" y="314" width="1" height="9" fill="#00ff00"/>
<rect x="557" y="317" width="3" height="4" fill="#00ff00"/>
<rect x="558" y="318" width="1" height="2" fill="#fff"/>
<rect x="562" y="314" width="1" height="11" fill="#00ff00"/>
<rect x="561" y="316" width="3" height="5" fill="#00ff00"/>
<rect x="562" y="317" width="1" height="3" fill="#000"/>
<rect x="566" y="314" width="1" height="14" fill="#00ff00"/>
<rect x="565" y="317" width="3" height="1" fill="#00ff00"/>
<rect x="570" y="309" width="1" height="15" fill="#00ff00"/>
<rect x="569" y="317" width="3" height="4" fill="#00ff00"/>
<rect x="570" y="318" width="1" height="2" fill="#fff"/>
<rect x="574" y="267" width="1" height="58" fill="#00ff00"/>
<rect x="573" y="270" width="3" height="51" fill="#00ff00"/>
<rect x="574" y="271" width="1" height="49" fill="#000"/>
<rect x="578" y="264" width="1" height="11" fill="#00ff00"/>
<rect x="577" y="266" width="3" height="5" fill="#00ff00"/>
<rect x="578" y="267" width="1" height="3" fill="#000"/>
<rect x="582" y="263" width="1" height="9" fill="#00ff00"/>
<rect x="581" y="266" width="3" height="3" fill="#00ff00"/>
<rect x="582" y="267" width="1" height="1" fill="#000"/>
<rect x="586" y="263" width="1" height="9" fill="#00ff00"/>
<rect x="585" y="267" width="3" height="1" fill="#00ff00"/>
<rect x="590" y="261" width="1" height="8" fill="#00ff00"/>
<rect x="589" y="263" width="3" height="5" fill="#00ff00"/>
<rect x="590" y="264" width="1" height="3" fill="#000"/>
<rect x="3" y="110" width="744" height="2" fill="#ff0000"/>
<rect x="3" y="242" width="744" height="2" fill="#ff0000"/>
<rect x="3" y="286" width="744" height="2" fill="#00ffff"/>
<rect x="3" y="312" width="744" height="2" fill="#00ffff"/>
<g stroke="#ffff00" stroke-width="1" fill="none">
<line x1="133.75" y1="100.6" x2="610.3" y2="246"/>
<line x1="170.25" y1="247.3" x2="646" y2="392.3"/>
<line x1="534.2" y1="342" x2="714.2" y2="252.3"/>
</g>
<path d="M610 249.6 L617.3 256.9 L614.2 256.9 L614.2 269.8 L605.9 269.8 L605.9 256.9 L602.7 256.9 Z" fill="none" stroke="#00ffff" stroke-width="1.7" shape-rendering="geometricPrecision" stroke-linejoin="miter"/>
<g font-family="Liberation Sans, Arial, sans-serif" font-size="17" fill="#fff" letter-spacing="0.25" text-rendering="geometricPrecision">
<clipPath id="cp"><rect x="3" y="3" width="744" height="461"/></clipPath>
<text clip-path="url(#cp)" x="128.25" y="101.30">(v)</text>
<text clip-path="url(#cp)" x="224.00" y="140.70">(ii)</text>
<text clip-path="url(#cp)" x="178.10" y="206.60">(i)</text>
<text clip-path="url(#cp)" x="409.90" y="251.40">(iv)</text>
<text clip-path="url(#cp)" x="369.90" y="327.70">(iii)</text>
<text clip-path="url(#cp)" x="516.20" y="359.60">(v)</text>
<text clip-path="url(#cp)" x="2.70" y="323.70">(iv)</text>
<text clip-path="url(#cp)" x="594.30" y="237.60">(i)</text>
<text clip-path="url(#cp)" x="619.80" y="306.40">(ii)</text>
<text clip-path="url(#cp)" x="666.00" y="112.30">(iii)</text>
<text clip-path="url(#cp)" x="697.90" y="174.60">(iv)</text>
<text clip-path="url(#cp)" x="743.90" y="71.50">(</text>
</g>
<g fill="#c0c0c0">
<rect x="5" y="526" width="2" height="10"/>
<rect x="9" y="526" width="2" height="10"/>
<rect x="13" y="526" width="2" height="8"/>
<rect x="17" y="526" width="2" height="6"/>
<rect x="21" y="526" width="2" height="5"/>
<rect x="25" y="526" width="2" height="4"/>
<rect x="29" y="526" width="2" height="2"/>
<rect x="33" y="525" width="2" height="1"/>
<rect x="37" y="523" width="2" height="3"/>
<rect x="41" y="520" width="2" height="6"/>
<rect x="45" y="518" width="2" height="8"/>
<rect x="49" y="517" width="2" height="9"/>
<rect x="53" y="516" width="2" height="10"/>
<rect x="57" y="517" width="2" height="9"/>
<rect x="61" y="517" width="2" height="9"/>
<rect x="65" y="513" width="2" height="13"/>
<rect x="69" y="512" width="2" height="14"/>
<rect x="73" y="512" width="2" height="14"/>
<rect x="77" y="512" width="2" height="14"/>
<rect x="81" y="511" width="2" height="15"/>
<rect x="85" y="510" width="2" height="16"/>
<rect x="89" y="507" width="2" height="19"/>
<rect x="93" y="505" width="2" height="21"/>
<rect x="97" y="504" width="2" height="22"/>
<rect x="101" y="504" width="2" height="22"/>
<rect x="105" y="504" width="2" height="22"/>
<rect x="109" y="503" width="2" height="23"/>
<rect x="113" y="499" width="2" height="27"/>
<rect x="117" y="494" width="2" height="32"/>
<rect x="121" y="491" width="2" height="35"/>
<rect x="125" y="489" width="2" height="37"/>
<rect x="129" y="488" width="2" height="38"/>
<rect x="133" y="485" width="2" height="41"/>
<rect x="137" y="481" width="2" height="45"/>
<rect x="141" y="481" width="2" height="45"/>
<rect x="145" y="481" width="2" height="45"/>
<rect x="149" y="481" width="2" height="45"/>
<rect x="153" y="481" width="2" height="45"/>
<rect x="157" y="481" width="2" height="45"/>
<rect x="161" y="482" width="2" height="44"/>
<rect x="165" y="488" width="2" height="38"/>
<rect x="169" y="491" width="2" height="35"/>
<rect x="173" y="494" width="2" height="32"/>
<rect x="177" y="497" width="2" height="29"/>
<rect x="181" y="502" width="2" height="24"/>
<rect x="185" y="508" width="2" height="18"/>
<rect x="189" y="512" width="2" height="14"/>
<rect x="193" y="514" width="2" height="12"/>
<rect x="197" y="516" width="2" height="10"/>
<rect x="201" y="517" width="2" height="9"/>
<rect x="205" y="519" width="2" height="7"/>
<rect x="209" y="519" width="2" height="7"/>
<rect x="213" y="520" width="2" height="6"/>
<rect x="217" y="520" width="2" height="6"/>
<rect x="221" y="520" width="2" height="6"/>
<rect x="225" y="520" width="2" height="6"/>
<rect x="229" y="520" width="2" height="6"/>
<rect x="233" y="522" width="2" height="4"/>
<rect x="237" y="525" width="2" height="1"/>
<rect x="241" y="526" width="2" height="5"/>
<rect x="245" y="526" width="2" height="8"/>
<rect x="249" y="526" width="2" height="12"/>
<rect x="253" y="526" width="2" height="13"/>
<rect x="257" y="526" width="2" height="15"/>
<rect x="261" y="526" width="2" height="17"/>
<rect x="265" y="526" width="2" height="17"/>
<rect x="269" y="526" width="2" height="18"/>
<rect x="273" y="526" width="2" height="18"/>
<rect x="277" y="526" width="2" height="17"/>
<rect x="281" y="526" width="2" height="17"/>
<rect x="285" y="526" width="2" height="17"/>
<rect x="289" y="526" width="2" height="18"/>
<rect x="293" y="526" width="2" height="18"/>
<rect x="297" y="526" width="2" height="19"/>
<rect x="301" y="526" width="2" height="22"/>
<rect x="305" y="526" width="2" height="22"/>
<rect x="309" y="526" width="2" height="20"/>
<rect x="313" y="526" width="2" height="20"/>
<rect x="317" y="526" width="2" height="18"/>
<rect x="321" y="526" width="2" height="17"/>
<rect x="325" y="526" width="2" height="17"/>
<rect x="329" y="526" width="2" height="18"/>
<rect x="333" y="526" width="2" height="17"/>
<rect x="337" y="526" width="2" height="9"/>
<rect x="341" y="526" width="2" height="2"/>
<rect x="345" y="523" width="2" height="3"/>
<rect x="349" y="522" width="2" height="4"/>
<rect x="353" y="523" width="2" height="3"/>
<rect x="357" y="526" width="2" height="5"/>
<rect x="361" y="526" width="2" height="12"/>
<rect x="365" y="526" width="2" height="15"/>
<rect x="369" y="526" width="2" height="20"/>
<rect x="373" y="526" width="2" height="28"/>
<rect x="377" y="526" width="2" height="32"/>
<rect x="381" y="526" width="2" height="37"/>
<rect x="385" y="526" width="2" height="41"/>
<rect x="389" y="526" width="2" height="43"/>
<rect x="393" y="526" width="2" height="43"/>
<rect x="397" y="526" width="2" height="43"/>
<rect x="401" y="526" width="2" height="39"/>
<rect x="405" y="526" width="2" height="37"/>
<rect x="409" y="526" width="2" height="33"/>
<rect x="413" y="526" width="2" height="30"/>
<rect x="417" y="526" width="2" height="27"/>
<rect x="421" y="526" width="2" height="24"/>
<rect x="425" y="526" width="2" height="22"/>
<rect x="429" y="526" width="2" height="22"/>
<rect x="433" y="526" width="2" height="22"/>
<rect x="437" y="526" width="2" height="22"/>
<rect x="441" y="526" width="2" height="22"/>
<rect x="445" y="526" width="2" height="20"/>
<rect x="449" y="526" width="2" height="20"/>
<rect x="453" y="526" width="2" height="18"/>
<rect x="457" y="526" width="2" height="17"/>
<rect x="461" y="526" width="2" height="15"/>
<rect x="465" y="526" width="2" height="14"/>
<rect x="469" y="526" width="2" height="15"/>
<rect x="473" y="526" width="2" height="12"/>
<rect x="477" y="526" width="2" height="11"/>
<rect x="481" y="526" width="2" height="11"/>
<rect x="485" y="526" width="2" height="10"/>
<rect x="489" y="526" width="2" height="10"/>
<rect x="493" y="526" width="2" height="9"/>
<rect x="497" y="526" width="2" height="8"/>
<rect x="501" y="526" width="2" height="7"/>
<rect x="505" y="526" width="2" height="8"/>
<rect x="509" y="526" width="2" height="6"/>
<rect x="513" y="526" width="2" height="7"/>
<rect x="517" y="526" width="2" height="6"/>
<rect x="521" y="526" width="2" height="7"/>
<rect x="525" y="526" width="2" height="13"/>
<rect x="529" y="526" width="2" height="18"/>
<rect x="533" y="526" width="2" height="22"/>
<rect x="537" y="526" width="2" height="25"/>
<rect x="541" y="526" width="2" height="25"/>
<rect x="545" y="526" width="2" height="26"/>
<rect x="549" y="526" width="2" height="24"/>
<rect x="553" y="526" width="2" height="23"/>
<rect x="557" y="526" width="2" height="22"/>
<rect x="561" y="526" width="2" height="20"/>
<rect x="565" y="526" width="2" height="18"/>
<rect x="569" y="526" width="2" height="17"/>
<rect x="573" y="526" width="2" height="10"/>
<rect x="577" y="526" width="2" height="3"/>
<rect x="581" y="524" width="2" height="2"/>
<rect x="585" y="520" width="2" height="6"/>
<rect x="589" y="516" width="2" height="10"/>
</g>
<polyline fill="none" stroke="#ff0000" stroke-width="1" points="3,528.5 10,531 14,532.5 22,533.6 27,533.6 34,532 40,528.75 50,525 60,521 70,517.5 80,515 90,512 96,510 104,509 110,507 120,503 128,499 134,496 140,491 146,487 152,484 158,481 162,480.2 168,480.2 172,481.5 176,483.5 182,486 188,492.5 195,500 203,507 212,512.5 218,516 226,518 234,520 242,522 250,526 258,530.6 266,535 274,539.4 279,542 288,542.5 296,543.75 306,545 320,545.4 336,545 338,544 344,540.6 350,537 354,534 360,533 365,531.2 370,532 376,535 382,541 386,546.25 392,553 398,558.75 404,563 410,565.6 414,565.5 418,563 424,560 430,557 436,553 442,551 448,549.4 456,547.5 464,545.25 472,543.75 482,541.25 490,539 500,537 510,535.25 520,533.5 524,533.25 530,535 536,537 542,540 548,543 554,546.25 560,548.5 566,549.6 570,548.9 574,547.5 580,543.75 586,539.4 590,535"/>
<rect x="2" y="2" width="746" height="1" fill="#fff"/>
<rect x="2" y="464" width="746" height="1" fill="#fff"/>
<rect x="2" y="466" width="746" height="1" fill="#fff"/>
<rect x="2" y="579" width="746" height="1" fill="#fff"/>
<rect x="2" y="2" width="1" height="582" fill="#fff"/>
<rect x="747" y="2" width="1" height="578" fill="#fff"/>
<g font-family="Liberation Sans, Arial, sans-serif" font-size="9.3" fill="#fff" stroke="#fff" stroke-width="0.22" text-rendering="geometricPrecision">
<rect x="748" y="13" width="4" height="1" fill="#fff"/>
<text x="753.6" y="17" textLength="32" lengthAdjust="spacingAndGlyphs">1.30250</text>
<rect x="748" y="45" width="4" height="1" fill="#fff"/>
<text x="753.6" y="49" textLength="32" lengthAdjust="spacingAndGlyphs">1.29775</text>
<rect x="748" y="77" width="4" height="1" fill="#fff"/>
<text x="753.6" y="81" textLength="32" lengthAdjust="spacingAndGlyphs">1.29300</text>
<rect x="748" y="142" width="4" height="1" fill="#fff"/>
<text x="753.6" y="146" textLength="32" lengthAdjust="spacingAndGlyphs">1.28350</text>
<rect x="748" y="174" width="4" height="1" fill="#fff"/>
<text x="753.6" y="178" textLength="32" lengthAdjust="spacingAndGlyphs">1.27875</text>
<rect x="748" y="206" width="4" height="1" fill="#fff"/>
<text x="753.6" y="210" textLength="32" lengthAdjust="spacingAndGlyphs">1.27400</text>
<rect x="748" y="238" width="4" height="1" fill="#fff"/>
<text x="753.6" y="242" textLength="32" lengthAdjust="spacingAndGlyphs">1.26925</text>
<rect x="748" y="271" width="4" height="1" fill="#fff"/>
<text x="753.6" y="275" textLength="32" lengthAdjust="spacingAndGlyphs">1.26450</text>
<rect x="748" y="303" width="4" height="1" fill="#fff"/>
<text x="753.6" y="307" textLength="32" lengthAdjust="spacingAndGlyphs">1.25975</text>
<rect x="748" y="335" width="4" height="1" fill="#fff"/>
<text x="753.6" y="339" textLength="32" lengthAdjust="spacingAndGlyphs">1.25500</text>
<rect x="748" y="367" width="4" height="1" fill="#fff"/>
<text x="753.6" y="371" textLength="32" lengthAdjust="spacingAndGlyphs">1.25025</text>
<rect x="748" y="400" width="4" height="1" fill="#fff"/>
<text x="753.6" y="404" textLength="32" lengthAdjust="spacingAndGlyphs">1.24550</text>
<rect x="748" y="432" width="4" height="1" fill="#fff"/>
<text x="753.6" y="436" textLength="32" lengthAdjust="spacingAndGlyphs">1.24075</text>
<rect x="748" y="467" width="4" height="1" fill="#fff"/>
<text x="753.6" y="475" textLength="37.5" lengthAdjust="spacingAndGlyphs">0.005294</text>
<text x="753.4" y="529" textLength="37.5" lengthAdjust="spacingAndGlyphs">0.000000</text>
<text x="753.4" y="577" textLength="40.5" lengthAdjust="spacingAndGlyphs">-0.004674</text>
<rect x="748" y="579" width="4" height="1" fill="#fff"/>
</g>
<g font-family="Liberation Sans, Arial, sans-serif" font-size="9.3" fill="#000" stroke="#000" stroke-width="0.3" text-rendering="geometricPrecision">
<rect x="750" y="106" width="39" height="11" fill="#ff0000"/>
<text x="753.6" y="115" textLength="32" lengthAdjust="spacingAndGlyphs">1.28797</text>
<rect x="750" y="238" width="39" height="11" fill="#ff0000"/>
<text x="753.6" y="247" textLength="32" lengthAdjust="spacingAndGlyphs">1.26850</text>
<rect x="750" y="259" width="39" height="11" fill="#778899"/>
<text x="753.6" y="268" textLength="32" lengthAdjust="spacingAndGlyphs">1.26549</text>
<rect x="750" y="282" width="39" height="11" fill="#00ffff"/>
<text x="753.6" y="291" textLength="32" lengthAdjust="spacingAndGlyphs">1.26203</text>
<rect x="750" y="308" width="39" height="11" fill="#00ffff"/>
<text x="753.6" y="317" textLength="32" lengthAdjust="spacingAndGlyphs">1.25830</text>
</g>
<rect x="748" y="110" width="3" height="1" fill="#fff"/>
<g font-family="Liberation Sans, Arial, sans-serif" font-size="9.3" fill="#fff" stroke="#fff" stroke-width="0.22" text-rendering="geometricPrecision">
<rect x="2" y="579" width="1" height="5" fill="#fff"/>
<text x="2.4" y="592">1 Mar 2024</text>
<rect x="66" y="579" width="1" height="5" fill="#fff"/>
<text x="66.4" y="592">5 Mar 12:00</text>
<rect x="130" y="579" width="1" height="5" fill="#fff"/>
<text x="130.4" y="592">8 Mar 04:00</text>
<rect x="194" y="579" width="1" height="5" fill="#fff"/>
<text x="194.4" y="592">12 Mar 20:00</text>
<rect x="258" y="579" width="1" height="5" fill="#fff"/>
<text x="258.4" y="592">15 Mar 12:00</text>
<rect x="322" y="579" width="1" height="5" fill="#fff"/>
<text x="322.4" y="592">20 Mar 04:00</text>
<rect x="386" y="579" width="1" height="5" fill="#fff"/>
<text x="386.4" y="592">22 Mar 20:00</text>
<rect x="450" y="579" width="1" height="5" fill="#fff"/>
<text x="450.4" y="592">27 Mar 12:00</text>
<rect x="514" y="579" width="1" height="5" fill="#fff"/>
<text x="514.4" y="592">1 Apr 04:00</text>
<rect x="578" y="579" width="1" height="5" fill="#fff"/>
<text x="578.4" y="592">3 Apr 20:00</text>
</g>
<text font-family="Liberation Sans, Arial, sans-serif" font-size="9.6" fill="#fff" stroke="#fff" stroke-width="0.22" text-rendering="geometricPrecision" x="6.6" y="13" textLength="66.5" lengthAdjust="spacingAndGlyphs">GBPUSD.c,H4:</text>
<text font-family="Liberation Sans, Arial, sans-serif" font-size="9.6" fill="#fff" stroke="#fff" stroke-width="0.22" text-rendering="geometricPrecision" x="79.6" y="13" textLength="211.5" lengthAdjust="spacingAndGlyphs">Great Britain Pound vs US Dollar Forward contract,</text>
<text font-family="Liberation Sans, Noto Sans CJK SC, sans-serif" font-size="9" fill="#fff" stroke="#fff" stroke-width="0.2" x="296.5" y="13" textLength="44.5" lengthAdjust="spacing">英镑兑美元</text>
<text font-family="Liberation Sans, Arial, sans-serif" font-size="9.6" fill="#fff" stroke="#fff" stroke-width="0.22" text-rendering="geometricPrecision" x="6" y="479" textLength="150" lengthAdjust="spacingAndGlyphs">MACD(12,26,9) 0.000844 -0.000701</text>
</svg>
</body></html>
